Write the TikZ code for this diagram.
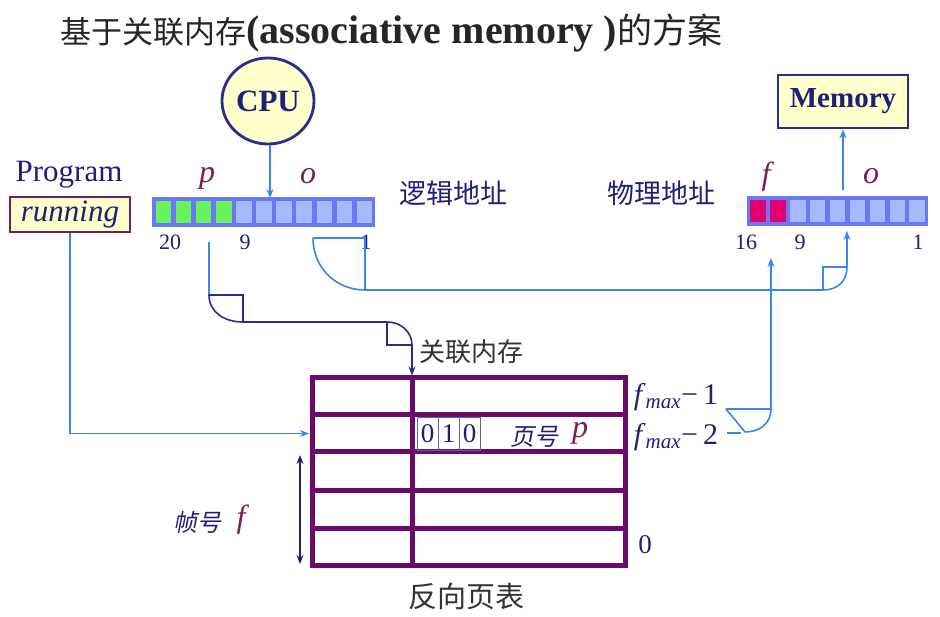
\documentclass[tikz,border=0pt]{standalone}
\usepackage{fontspec}
\setmainfont{Liberation Serif}
\newfontfamily\cjk{Noto Sans CJK SC}
\newfontfamily\cjksl[FakeSlant=0.2]{Noto Sans CJK SC}
\usetikzlibrary{shapes.geometric,arrows.meta}
\definecolor{navy}{HTML}{1F1F7A}
\definecolor{lblue}{HTML}{3A86E8}
\definecolor{bnavy}{HTML}{2C2C8E}
\definecolor{purp}{HTML}{7A1F55}
\definecolor{tpurp}{HTML}{6A0A6A}
\definecolor{yfill}{HTML}{FFFFCC}
\definecolor{gcell}{HTML}{66F25A}
\definecolor{bcell}{HTML}{A6BBFF}
\definecolor{bbord}{HTML}{6A78F5}
\definecolor{mcell}{HTML}{E0006E}
\definecolor{gtext}{HTML}{333333}
\tikzset{
  lb/.style={draw=lblue, line width=1.6},
  nb/.style={draw=bnavy, line width=1.6},
  tip/.style={-{Stealth[length=9pt,width=7pt]}},
  bar/.style={fill=bbord, draw=bbord, line width=1.2, inner sep=0},
  cellg/.style={fill=gcell, inner sep=0, minimum width=15.5, minimum height=22},
  cellb/.style={fill=bcell, inner sep=0, minimum width=15.5, minimum height=22},
  cellm/.style={fill=mcell, inner sep=0, minimum width=15.5, minimum height=22},
  lbl/.style={text=navy, inner sep=0, font=\fontsize{27}{29}\selectfont},
  num/.style={text=navy, inner sep=0, font=\fontsize{22}{24}\selectfont},
  var/.style={text=purp, inner sep=0, font=\fontsize{32}{34}\selectfont\itshape},
  tline/.style={draw=tpurp, line width=5},
}
\begin{document}
\begin{tikzpicture}[x=1pt,y=-1pt]
\useasboundingbox[fill=white] (0,0) rectangle (940,617);

% title
\node[anchor=west, inner sep=0, text=black!85] (title) at (60,33)
  {\fontsize{31}{36}\selectfont\cjk 基于关联内存\rmfamily\bfseries\fontsize{40}{40}\selectfont(associative memory )\mdseries\cjk\fontsize{35}{36}\selectfont 的方案};

% CPU and Memory
\node[ellipse, draw=bnavy, line width=2.8, fill=yfill, minimum width=92, minimum height=86, inner sep=0,
  font=\fontsize{31}{33}\selectfont\bfseries, text=navy] (cpu) at (268,101) {CPU};
\node[draw=bnavy, line width=2.8, fill=yfill, minimum width=130, minimum height=53, inner sep=0,
  font=\fontsize{29}{31}\selectfont\bfseries, text=navy] (mem) at (843,101.5) {Memory};

% Program running
\node[lbl, font=\fontsize{31}{33}\selectfont] (prog) at (69,175) {Program};
\node[draw=purp, line width=2.5, fill=yfill, minimum width=120, minimum height=35, inner sep=0,
  font=\fontsize{31}{33}\selectfont\itshape, text=navy] (run) at (70,214.5) {running};

% logical address bar
\node[bar, minimum width=221, minimum height=29] (lbar) at (263.5,212) {};
\foreach \i in {0,...,3} {\node[cellg] (lc\i) at (163.5+20.1*\i,212) {};}
\foreach \i in {4,...,10} {\node[cellb] (lc\i) at (163.5+20.1*\i,212) {};}
\node[var] (lp) at (207,178) {p};
\node[var] (lo) at (308,176) {o};
\node[num] (n20) at (170,242) {20};
\node[num] (n9a) at (245,242) {9};
\node[num] (n1a) at (366,242) {1};
\node[lbl] (la) at (453,193) {\cjk 逻辑地址};

% physical address bar
\node[bar, minimum width=179, minimum height=29] (pbar) at (837.5,211) {};
\foreach \i in {0,1} {\node[cellm] (pc\i) at (758+19.9*\i,211) {};}
\foreach \i in {2,...,8} {\node[cellb] (pc\i) at (758+19.9*\i,211) {};}
\node[var] (pf) at (766,177) {f};
\node[var] (po) at (871,176) {o};
\node[num] (n16) at (746,242) {16};
\node[num] (n9b) at (800,242) {9};
\node[num] (n1b) at (918,242) {1};
\node[lbl] (pa) at (661,193) {\cjk 物理地址};

% CPU -> logical bar, physical bar -> memory
\coordinate (cpuin) at (270,198);
\draw[lb,tip] (cpu.south -| cpuin) -- (cpuin);
\coordinate (memout) at (843,190);
\draw[lb,tip] (memout) -- (mem.south -| memout);

% associative memory label and table
\node[lbl, text=gtext, font=\fontsize{26}{28}\selectfont] (am) at (471,352) {\cjk 关联内存};
\node[draw=tpurp, line width=5, minimum width=313, minimum height=187, inner sep=0] (tbl) at (468.5,471.5) {};
\draw[tline] (412,378) -- (412,565);
\foreach \y in {415,452,490,528} {\draw[tline] (312,\y) -- (625,\y);}
\node[lbl, text=gtext, font=\fontsize{29}{31}\selectfont] (rpt) at (466,596) {\cjk 反向页表};

% row fmax-2 content
\foreach \v/\x [count=\k] in {0/427.5,1/448.5,0/469.5} {
  \node[draw=navy!70, line width=0.6, minimum width=21, minimum height=33, inner sep=0,
    font=\fontsize{27}{29}\selectfont, text=navy] (b\k) at (\x,434) {\v};}
\node[lbl, font=\fontsize{24}{26}\selectfont\cjksl] (yh) at (534,437) {页号};
\node[var] (rp) at (580,433) {p};

% right labels
\node[inner sep=0, text=navy, font=\fontsize{30}{32}\selectfont] (fm1) at (676,397)
  {\textit{f}\textsubscript{\textit{max}}−\,1};
\node[inner sep=0, text=navy, font=\fontsize{30}{32}\selectfont] (fm2) at (676,437)
  {\textit{f}\textsubscript{\textit{max}}−\,2};
\node[inner sep=0, text=navy, font=\fontsize{27}{29}\selectfont] (z0) at (645,545) {0};

% frame number arrow
\node[lbl, font=\fontsize{24}{26}\selectfont\cjksl] (zh) at (197,522) {帧号};
\node[var] (ff) at (241,520) {f};
\coordinate (fa) at (300,455);
\coordinate (fb) at (300,564);
\draw[draw=navy, line width=1.4, {Stealth[length=9pt,width=7pt]}-{Stealth[length=9pt,width=7pt]}] (fa) -- (fb);

% running -> table
\coordinate (row2) at (309,433.5);
\draw[lb,tip] (run.south) |- (row2);

% p field -> associative memory
\coordinate (pA) at (209,242);
\coordinate (pB) at (209,295);
\coordinate (pC) at (243,322);
\coordinate (pD) at (387,322);
\coordinate (pE) at (412,345);
\draw[lb] (pA) -- (pB);
\draw[nb] (pB) -- (243,295) -- (pC);
\draw[nb] (pB) .. controls (209,312) and (224,322) .. (pC) -- (pD);
\draw[nb] (pD) -- (387,345) -- (pE);
\draw[nb] (pD) .. controls (401,322) and (412,332) .. (pE);
\draw[nb,tip] (pE) -- (tbl.north -| pE);

% o field -> physical o
\coordinate (oA) at (313,238);
\coordinate (oB) at (365,290);
\coordinate (oC) at (823,290);
\coordinate (oD) at (847,267);
\coordinate (oE) at (847,231);
\draw[lb] (oA) -- (365,238) -- (oB);
\draw[lb] (oA) .. controls (313,268) and (336,290) .. (oB) -- (oC);
\draw[lb] (oC) -- (823,267) -- (oD);
\draw[lb] (oC) .. controls (838,290) and (847,281) .. (oD);
\draw[lb,tip] (oD) -- (oE);

% fmax-2 -> physical f
\coordinate (fA) at (726,409);
\coordinate (fB) at (771,409);
\coordinate (fC) at (745,432);
\coordinate (fD) at (771,258);
\draw[lb] (fA) -- (fB);
\draw[lb] (fA) -- (fC);
\draw[lb] (fB) .. controls (771,423) and (760,432) .. (fC);
\draw[lb] (727,433) -- (741,433);
\draw[lb,tip] (fB) -- (fD);
\end{tikzpicture}
\end{document}
